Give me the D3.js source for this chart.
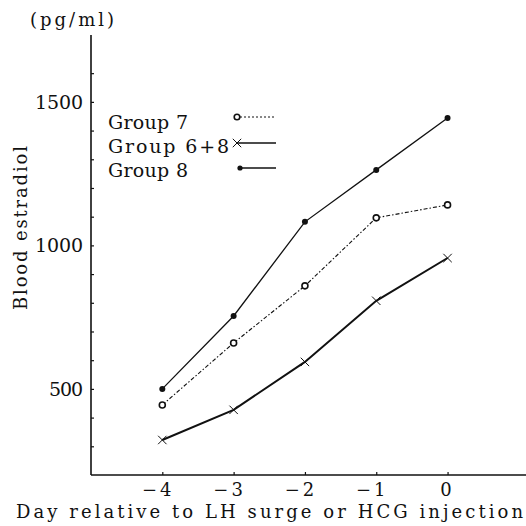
<!DOCTYPE html>
<html>
<head>
<meta charset="utf-8">
<script src="https://cdn.jsdelivr.net/npm/d3@7"></script>
<style>
  html, body { margin: 0; padding: 0; background: #fff; }
  svg { display: block; }
</style>
</head>
<body>
<svg id="chart" width="526" height="526"></svg>
<script>
// data
const days = [-4, -3, -2, -1, 0];
const group7 = [444, 660, 859, 1096, 1141];
const group68 = [322, 427, 594, 807, 956];
const group8 = [500, 754, 1082, 1263, 1444];
const yLabelTicks = [500, 1000, 1500];
const yMinorTicks = d3.range(300, 1700, 100);
const legendNames = ["Group 7", "Group 6+8", "Group 8"];

const svg = d3.select("#chart");
const font = "DejaVu Serif";

const x = d3.scaleLinear().domain([-5, 1.1]).range([91, 526]);
const y = d3.scaleLinear().domain([200, 1733]).range([475, 35]);

const ink = "#111";

// axes
const gy = svg.append("g").attr("transform", `translate(${x(-5)},0)`)
    .call(d3.axisRight(y).tickValues(yMinorTicks).tickSize(3).tickFormat(""));
gy.select(".domain").attr("d", `M0,${y(1733)}V${y(200)}`).attr("stroke", ink).attr("stroke-width", 1.6);
gy.selectAll(".tick line").attr("stroke", ink).attr("stroke-width", 1.2);

svg.append("g").selectAll("text")
  .data(yLabelTicks)
  .join("text")
    .attr("x", 83)
    .attr("y", d => y(d) + 7)
    .attr("text-anchor", "end")
    .attr("font-family", font)
    .attr("font-size", 19)
    .attr("fill", ink)
    .attr("textLength", d => d >= 1000 ? 48 : 34)
    .text(d => d);

const gx = svg.append("g").attr("transform", `translate(0,${y(200)})`)
    .call(d3.axisTop(x).tickValues(days).tickSize(3).tickFormat(""));
gx.select(".domain").attr("d", `M${x(-5)},0H526`).attr("stroke", ink).attr("stroke-width", 1.4);
gx.selectAll(".tick line").attr("stroke", ink).attr("stroke-width", 1.2);

svg.append("g").selectAll("text")
  .data(days)
  .join("text")
    .attr("x", d => x(d) + (d < 0 ? -4 : 0))
    .attr("y", 496)
    .attr("text-anchor", "middle")
    .attr("font-family", font)
    .attr("font-size", 18)
    .attr("letter-spacing", 3)
    .attr("fill", ink)
    .text(d => d < 0 ? "\u2212" + Math.abs(d) : d);

// axis titles
svg.append("text")
    .attr("x", 30).attr("y", 26)
    .attr("font-family", font)
    .attr("font-size", 18).attr("fill", ink)
    .attr("textLength", 84)
    .text("(pg/ml)");

svg.append("text")
    .attr("transform", "translate(27,228) rotate(-90)")
    .attr("text-anchor", "middle")
    .attr("font-family", font)
    .attr("font-size", 18).attr("fill", ink)
    .attr("textLength", 164)
    .text("Blood estradiol");

svg.append("text")
    .attr("x", 16).attr("y", 518)
    .attr("font-family", font)
    .attr("font-size", 18).attr("fill", ink)
    .attr("textLength", 507)
    .text("Day relative to LH surge or HCG injection");

// series
const line = d3.line().x((d, i) => x(days[i])).y(d => y(d));

svg.append("path").datum(group8)
    .attr("d", line).attr("fill", "none")
    .attr("stroke", ink).attr("stroke-width", 1.3);

svg.append("path").datum(group7)
    .attr("d", line).attr("fill", "none")
    .attr("stroke", ink).attr("stroke-width", 1.1)
    .attr("stroke-dasharray", "4,2,1.5,2");

svg.append("path").datum(group68)
    .attr("d", line).attr("fill", "none")
    .attr("stroke", ink).attr("stroke-width", 2);

svg.append("g").selectAll("circle")
  .data(group8)
  .join("circle")
    .attr("cx", (d, i) => x(days[i]))
    .attr("cy", d => y(d))
    .attr("r", 3)
    .attr("fill", ink);

svg.append("g").selectAll("circle")
  .data(group7)
  .join("circle")
    .attr("cx", (d, i) => x(days[i]))
    .attr("cy", d => y(d))
    .attr("r", 3)
    .attr("fill", "#fff")
    .attr("stroke", ink)
    .attr("stroke-width", 1.6);

const cross = d3.symbol().type(d3.symbolX).size(48);
svg.append("g").selectAll("path")
  .data(group68)
  .join("path")
    .attr("transform", (d, i) => `translate(${x(days[i])},${y(d)})`)
    .attr("d", cross)
    .attr("fill", ink)
    .attr("stroke", ink)
    .attr("stroke-width", 1);

// legend
const legendY = [117, 143, 168];
const legendText = [129, 153, 177];
const legendLen = [80, 121, 80];
const leg = svg.append("g");
leg.selectAll("text")
  .data(legendNames)
  .join("text")
    .attr("x", 108)
    .attr("y", (d, i) => legendText[i])
    .attr("font-family", font)
    .attr("font-size", 19)
    .attr("textLength", (d, i) => legendLen[i])
    .attr("fill", ink)
    .text(d => d);

leg.append("line").attr("x1", 240).attr("x2", 276).attr("y1", legendY[0]).attr("y2", legendY[0])
    .attr("stroke", ink).attr("stroke-width", 1).attr("stroke-dasharray", "2,2");
leg.append("circle").attr("cx", 237).attr("cy", legendY[0]).attr("r", 2.8)
    .attr("fill", "#fff").attr("stroke", ink).attr("stroke-width", 1.6);

leg.append("line").attr("x1", 237).attr("x2", 276).attr("y1", legendY[1]).attr("y2", legendY[1])
    .attr("stroke", ink).attr("stroke-width", 1.5);
leg.append("path").attr("transform", `translate(237,${legendY[1]})`).attr("d", cross)
    .attr("fill", ink).attr("stroke", ink).attr("stroke-width", 1);

leg.append("line").attr("x1", 240).attr("x2", 276).attr("y1", legendY[2]).attr("y2", legendY[2])
    .attr("stroke", ink).attr("stroke-width", 1.3);
leg.append("circle").attr("cx", 240).attr("cy", legendY[2]).attr("r", 2.6)
    .attr("fill", ink);
</script>
</body>
</html>
